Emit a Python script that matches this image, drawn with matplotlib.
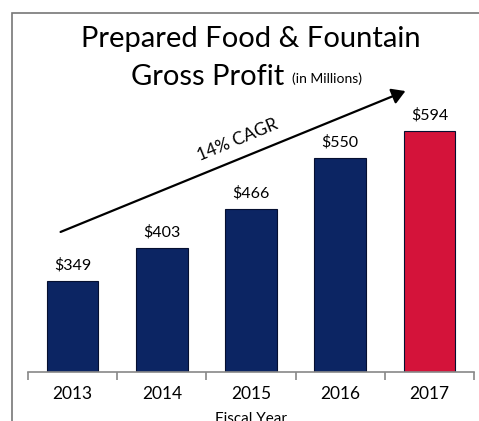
import matplotlib
matplotlib.use("Agg")
import matplotlib.pyplot as plt
from matplotlib.patches import Rectangle, FancyArrowPatch
import numpy as np

years = ["2013", "2014", "2015", "2016", "2017"]
values = [349, 403, 466, 550, 594]
labels = ["$349", "$403", "$466", "$550", "$594"]
colors = ["#0c2563", "#0c2563", "#0c2563", "#0c2563", "#d4133a"]

W, H = 479, 421
fig = plt.figure(figsize=(W/100, H/100), dpi=100)
plt.rcParams['font.family'] = ['Lato', 'DejaVu Sans']

# outer frame
fig.patches.append(Rectangle((12/W, -0.1), 1.2, 1.1 - 13/H, transform=fig.transFigure,
                             fill=False, edgecolor="#777777", linewidth=1.2))

ax = fig.add_axes([28/W, (H-372)/H, 446/W, 306/H])
x = np.arange(len(years))
ax.bar(x, values, width=0.58, color=colors, edgecolor="#050f30", linewidth=0.8, zorder=2)
ax.set_xlim(-0.5, 4.5)
ax.set_ylim(200, 700)
for s in ["top", "right", "left"]:
    ax.spines[s].set_visible(False)
ax.spines["bottom"].set_color("#888888")
ax.spines["bottom"].set_linewidth(1.2)
ax.set_yticks([])
ax.set_xticks(x)
ax.set_xticklabels(years, fontsize=12.5)
ax.tick_params(axis="x", which="major", length=0, pad=10)
ax.set_xticks(np.arange(-0.5, 5, 1), minor=True)
ax.tick_params(axis="x", which="minor", length=6, color="#888888", width=1.2)
ax.set_xlabel("Fiscal Year", fontsize=11, labelpad=7)

for xi, v, lab in zip(x, values, labels):
    ax.annotate(lab, (xi, v), xytext=(0, 6), textcoords="offset points",
                ha="center", va="bottom", fontsize=11.5)

# title
fig.text(251/W, 1 - 39/H, "Prepared Food & Fountain", ha="center", va="center", fontsize=21)
fig.text(208/W, 1 - 77/H, "Gross Profit", ha="center", va="center", fontsize=21)
fig.text(327/W, 1 - 79/H, "(in Millions)", ha="center", va="center", fontsize=10)

# CAGR arrow
arr = FancyArrowPatch((58/W, 1 - 233/H), (408/W, 1 - 90/H), transform=fig.transFigure,
                      arrowstyle="-|>,head_length=5,head_width=3", mutation_scale=1.6,
                      color="black", linewidth=1.6)
fig.patches.append(arr)
fig.text(238/W, 1 - 140/H, "14% CAGR", ha="center", va="center", rotation=22.5, fontsize=12.5)

fig.savefig("out.png", dpi=100)
